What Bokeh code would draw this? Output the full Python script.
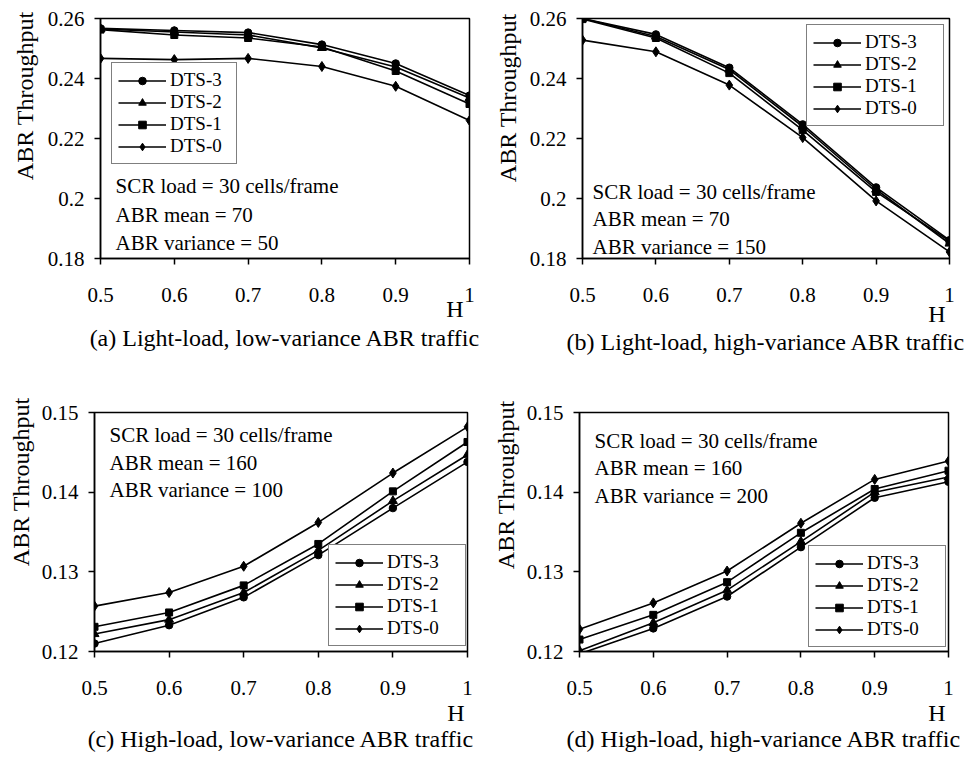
import math
from bokeh.plotting import figure
from bokeh.models import Label, Legend, FixedTicker, NumeralTickFormatter, Range1d, Title
from bokeh.layouts import column, row
from bokeh.embed import file_html
from bokeh.resources import INLINE

# ---------------- data ----------------
H = [0.5, 0.6, 0.7, 0.8, 0.9, 1.0]
series_names = ["DTS-3", "DTS-2", "DTS-1", "DTS-0"]
markers = ["circle", "triangle", "square", "diamond"]
x_ticks = [0.5, 0.6, 0.7, 0.8, 0.9, 1.0]
y_ticks_light = [0.18, 0.20, 0.22, 0.24, 0.26]
y_ticks_heavy = [0.12, 0.13, 0.14, 0.15]

a_dts3 = [0.2567, 0.2560, 0.2553, 0.2513, 0.2450, 0.2343]
a_dts2 = [0.2565, 0.2555, 0.2545, 0.2502, 0.2438, 0.2335]
a_dts1 = [0.2563, 0.2545, 0.2535, 0.2505, 0.2425, 0.2315]
a_dts0 = [0.2467, 0.2463, 0.2467, 0.2440, 0.2374, 0.2260]

b_dts3 = [0.2600, 0.2547, 0.2436, 0.2247, 0.2037, 0.1861]
b_dts2 = [0.2600, 0.2540, 0.2430, 0.2240, 0.2030, 0.1850]
b_dts1 = [0.2598, 0.2535, 0.2418, 0.2228, 0.2022, 0.1858]
b_dts0 = [0.2528, 0.2489, 0.2378, 0.2203, 0.1992, 0.1822]

c_dts3 = [0.1210, 0.1233, 0.1268, 0.1321, 0.1380, 0.1438]
c_dts2 = [0.1222, 0.1240, 0.1274, 0.1327, 0.1389, 0.1447]
c_dts1 = [0.1231, 0.1249, 0.1283, 0.1335, 0.1401, 0.1463]
c_dts0 = [0.1257, 0.1274, 0.1307, 0.1362, 0.1424, 0.1482]

d_dts3 = [0.1197, 0.1229, 0.1269, 0.1331, 0.1393, 0.1413]
d_dts2 = [0.1201, 0.1236, 0.1277, 0.1338, 0.1400, 0.1419]
d_dts1 = [0.1215, 0.1246, 0.1287, 0.1349, 0.1404, 0.1427]
d_dts0 = [0.1228, 0.1261, 0.1301, 0.1361, 0.1416, 0.1439]

FONT = "Liberation Serif"
marker_sizes = {"circle": 7.5, "triangle": 9, "square": 7, "diamond": 10}


def panel(ox, oy, w, h, bl, br, bt, bb, yr, yticks, yfmt, series,
          legend_box, legend_label_w, notes, note_x, note_ys,
          ylabel_offset, ylabel_standoff, h_offset, h_standoff, cap_standoff, caption):
    p = figure(width=w, height=h, output_backend="svg", toolbar_location=None,
               x_range=Range1d(0.5, 1.0), y_range=Range1d(*yr),
               min_border_left=bl, min_border_right=br,
               min_border_top=bt, min_border_bottom=bb,
               background_fill_color="white", border_fill_color="white")
    p.outline_line_color = "black"
    p.outline_line_width = 1.5
    p.xgrid.visible = False
    p.ygrid.visible = False
    for ax in (p.xaxis[0], p.yaxis[0]):
        ax.axis_line_width = 1.5
        ax.major_tick_line_width = 1.5
        ax.major_tick_out = 6
        ax.major_tick_in = 0
        ax.minor_tick_line_color = None
        ax.major_label_text_font = FONT
        ax.major_label_text_font_size = "21px"
        ax.major_label_text_color = "black"
    p.xaxis.ticker = FixedTicker(ticks=x_ticks)
    p.xaxis.formatter = NumeralTickFormatter(format="0.[0]")
    p.xaxis.major_label_standoff = 23
    p.yaxis.ticker = FixedTicker(ticks=yticks)
    p.yaxis.formatter = NumeralTickFormatter(format=yfmt)
    p.yaxis.major_label_standoff = 10

    items = []
    for name, mk, ys in zip(series_names, markers, series):
        r1 = p.line(H, ys, line_color="black", line_width=1.6)
        r2 = p.scatter(H, ys, marker=mk, size=marker_sizes[mk],
                       fill_color="black", line_color="black")
        items.append((name, [r1, r2]))

    fl = ox + bl
    fb = oy + h - bb

    def sx(X):
        return X - fl

    def sy(Y):
        return fb - Y

    lx, ly = legend_box
    leg = Legend(items=items, location=(sx(lx), sy(ly)),
                 label_text_font=FONT, label_text_font_size="19px",
                 label_text_color="black",
                 glyph_width=48, glyph_height=19, label_height=19,
                 label_width=legend_label_w, label_standoff=4, spacing=0,
                 padding=6, margin=0,
                 border_line_color="black", border_line_width=1.5,
                 background_fill_color="white", background_fill_alpha=1.0)
    p.add_layout(leg, "center")

    for txt, Y in zip(notes, note_ys):
        p.add_layout(Label(x=sx(note_x), y=sy(Y), x_units="screen", y_units="screen",
                           text=txt, text_font=FONT, text_font_size="21px",
                           text_color="black", text_align="left",
                           text_baseline="middle"))

    p.add_layout(Title(text="ABR Throughput", align="right", offset=ylabel_offset,
                       text_font=FONT, text_font_size="24px", text_font_style="normal",
                       text_color="black", standoff=ylabel_standoff), "left")
    p.add_layout(Title(text="H", align="right", offset=h_offset,
                       text_font=FONT, text_font_size="24px", text_font_style="normal",
                       text_color="black", standoff=h_standoff), "below")
    p.add_layout(Title(text=caption, align="center",
                       text_font=FONT, text_font_size="24px", text_font_style="normal",
                       text_color="black", standoff=cap_standoff), "below")
    return p


notes_a = ["SCR load = 30 cells/frame", "ABR mean = 70", "ABR variance = 50"]
notes_b = ["SCR load = 30 cells/frame", "ABR mean = 70", "ABR variance = 150"]
notes_c = ["SCR load = 30 cells/frame", "ABR mean = 160", "ABR variance = 100"]
notes_d = ["SCR load = 30 cells/frame", "ABR mean = 160", "ABR variance = 200"]

pa = panel(0, 0, 485, 379, 100, 16, 17, 118, (0.18, 0.26), y_ticks_light, "0.[00]",
           [a_dts3, a_dts2, a_dts1, a_dts0], (111, 167), 60,
           notes_a, 115, [188, 217, 245], -7, 14, 6, -21, 23,
           "(a) Light-load, low-variance ABR traffic")
pb = panel(485, 0, 485, 379, 97, 21, 18, 121, (0.18, 0.26), y_ticks_light, "0.[00]",
           [b_dts3, b_dts2, b_dts1, b_dts0], (806, 126), 72,
           notes_b, 592, [191, 218, 246], -5, 12, 4, -11, 11,
           "(b) Light-load, high-variance ABR traffic")
pc = panel(0, 379, 485, 379, 91, 18, 29, 106, (0.12, 0.15), y_ticks_heavy, "0.[00]",
           [c_dts3, c_dts2, c_dts1, c_dts0], (325, 647), 72,
           notes_c, 106, [435, 463, 490], -15, 10, 3, 0, -4,
           "(c) High-load, low-variance ABR traffic")
pd_ = panel(485, 379, 485, 379, 92, 22, 33, 107, (0.12, 0.15), y_ticks_heavy, "0.[00]",
            [d_dts3, d_dts2, d_dts1, d_dts0], (806, 647), 72,
            notes_d, 592, [440, 467, 495], -12, 10, 3, 0, -4,
            "(d) High-load, high-variance ABR traffic")

layout = column(row(pa, pb), row(pc, pd_))
open("out.html", "w").write(file_html(layout, INLINE))
